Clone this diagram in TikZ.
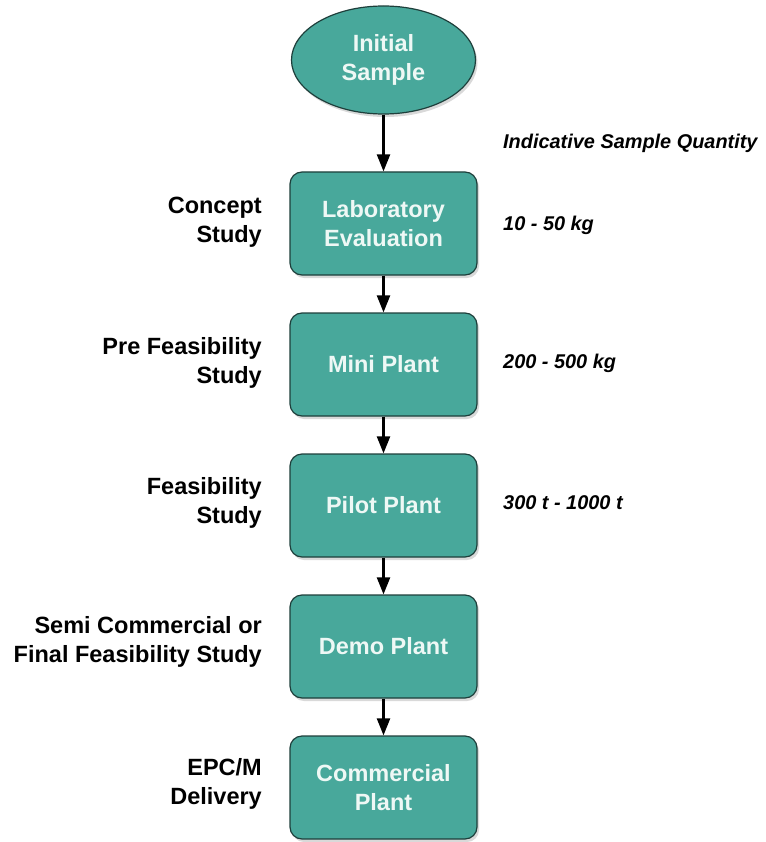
\documentclass[tikz,border=0pt]{standalone}
\usepackage{fontspec}
\setmainfont{Liberation Sans}
\usetikzlibrary{shapes.geometric,shadows,arrows.meta}
\definecolor{tealfill}{HTML}{48A89B}
\definecolor{tealedge}{HTML}{1E3F3B}
\definecolor{boxtext}{HTML}{EEF8F5}
\begin{document}
\begin{tikzpicture}[x=1pt,y=-1pt,
  stagebox/.style={draw=tealedge, line width=1.2pt, fill=tealfill,
    rounded corners=12pt, minimum width=187pt, minimum height=103pt,
    inner sep=0pt, align=center, text=boxtext,
    font=\bfseries\fontsize{23.5}{29}\selectfont,
    drop shadow={shadow xshift=2pt, shadow yshift=-3pt, opacity=0.3}},
  startoval/.style={ellipse, draw=tealedge, line width=1.2pt, fill=tealfill,
    minimum width=184pt, minimum height=108pt, inner sep=0pt,
    align=center, text=boxtext, font=\bfseries\fontsize{23.5}{29}\selectfont,
    drop shadow={shadow xshift=2pt, shadow yshift=-3pt, opacity=0.3}},
  phase/.style={anchor=east, align=right, inner sep=0pt,
    font=\bfseries\fontsize{23.5}{29}\selectfont},
  qty/.style={anchor=west, inner sep=0pt,
    font=\bfseries\itshape\fontsize{19.9}{23}\selectfont},
  flow/.style={line width=2.2pt, -{Triangle[length=17pt,width=13pt]}}]
\useasboundingbox (0,0) rectangle (765,842);

% process stages
\node[startoval] (init) at (383.5,60) {Initial\\Sample};
\node[stagebox] (lab)   at (383.5,223.5) {Laboratory\\Evaluation};
\node[stagebox] (mini)  at (383.5,364.5) {Mini Plant};
\node[stagebox] (pilot) at (383.5,505.5) {Pilot Plant};
\node[stagebox] (demo)  at (383.5,646.5) {Demo Plant};
\node[stagebox] (comm)  at (383.5,787.5) {Commercial\\Plant};

% connectors
\draw[flow] (init) -- (lab);
\draw[flow] (lab) -- (mini);
\draw[flow] (mini) -- (pilot);
\draw[flow] (pilot) -- (demo);
\draw[flow] (demo) -- (comm);

% study phases
\node[phase] (p1) at (262,222) {Concept\\Study};
\node[phase] (p2) at (262,363) {Pre Feasibility\\Study};
\node[phase] (p3) at (262,503) {Feasibility\\Study};
\node[phase] (p4) at (262,642) {Semi Commercial or\\Final Feasibility Study};
\node[phase] (p5) at (262,784) {EPC/M\\Delivery};

% sample quantities
\node[qty] (qh) at (503,143) {Indicative Sample Quantity};
\node[qty] (q1) at (503,225) {10 - 50 kg};
\node[qty] (q2) at (503,363) {200 - 500 kg};
\node[qty] (q3) at (503,503) {300 t - 1000 t};
\end{tikzpicture}
\end{document}
